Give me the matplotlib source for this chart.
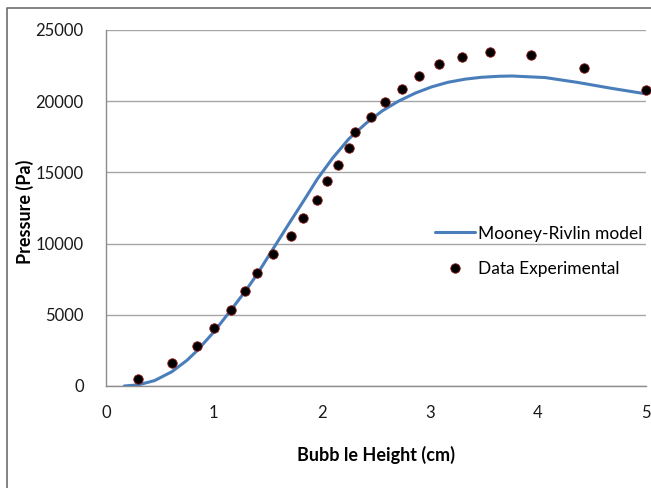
import matplotlib
matplotlib.use("Agg")
import matplotlib.pyplot as plt
from matplotlib.lines import Line2D

plt.rcParams['font.family'] = ['Lato', 'DejaVu Sans']

# Mooney-Rivlin model curve
model_x = [0.17, 0.30, 0.45, 0.61, 0.75, 0.84, 1.00, 1.16, 1.30, 1.405, 1.54,
           1.70, 1.84, 1.96, 2.10, 2.25, 2.41, 2.56, 2.71, 2.87, 3.02, 3.17,
           3.33, 3.48, 3.64, 3.76, 4.07, 4.37, 4.68, 5.00]
model_y = [0, 80, 380, 1000, 1800, 2450, 3800, 5350, 6750, 7900, 9530,
           11450, 13100, 14550, 16000, 17350, 18450, 19320, 20000, 20580, 21010, 21330,
           21550, 21680, 21750, 21770, 21660, 21320, 20910, 20520]

# experimental points
exp_x = [0.30, 0.61, 0.84, 1.00, 1.16, 1.29, 1.40, 1.55, 1.71, 1.83, 1.96, 2.05,
         2.15, 2.25, 2.31, 2.46, 2.59, 2.74, 2.90, 3.09, 3.30, 3.56, 3.94, 4.43, 5.00]
exp_y = [490, 1590, 2790, 4090, 5330, 6660, 7950, 9260, 10540, 11830, 13050, 14400,
         15530, 16720, 17830, 18900, 19960, 20890, 21800, 22580, 23100, 23420, 23230, 22330, 20790]

x_ticks = [0, 1, 2, 3, 4, 5]
y_ticks = [0, 5000, 10000, 15000, 20000, 25000]

fig = plt.figure(figsize=(6.51, 4.88), dpi=100)
ax = fig.add_axes([106/651, 1-386/488, 539.5/651, 356/488])

ax.plot(model_x, model_y, color='#4a7ebb', lw=2.2, label='Mooney-Rivlin model',
        zorder=3, solid_capstyle='round', solid_joinstyle='round')
ax.plot(exp_x, exp_y, 'o', color='black', markersize=6.8, markeredgecolor='#8b1a1a',
        markeredgewidth=0.6, label='Data Experimental', zorder=4, clip_on=False)

ax.set_xlim(0, 5)
ax.set_ylim(0, 25000)
ax.set_xticks(x_ticks)
ax.set_yticks(y_ticks)
ax.tick_params(length=0, labelsize=12, colors='#1a1a1a')
ax.tick_params(axis='x', pad=14)
ax.tick_params(axis='y', pad=16)
ax.grid(axis='y', color='#a6a6a6', lw=1)
ax.set_axisbelow(True)
for s in ['top', 'right']:
    ax.spines[s].set_visible(False)
for s in ['left', 'bottom']:
    ax.spines[s].set_color('#8c8c8c')
    ax.spines[s].set_linewidth(1)

ax.set_xlabel('Bubb le Height (cm)', fontsize=13, fontweight='bold', va='center')
ax.xaxis.set_label_coords(0.5, (386-455)/356)
ax.set_ylabel('Pressure (Pa)', fontsize=13, fontweight='bold', va='center')
ax.yaxis.set_label_coords((25-106)/539.5, 0.49)

fig.legend(loc='center left', bbox_to_anchor=(435/651, 1-251.5/488), frameon=False,
           fontsize=12.5, handlelength=2.3, handletextpad=0.2, labelspacing=1.15,
           borderpad=0, borderaxespad=0)

# outer chart frame
fig.add_artist(Line2D([6.5/651, 6.5/651, 1.0], [0, 1-8/488, 1-8/488],
                      transform=fig.transFigure, color='#6e6e6e', lw=1.2))

fig.savefig('out.png', dpi=100)
